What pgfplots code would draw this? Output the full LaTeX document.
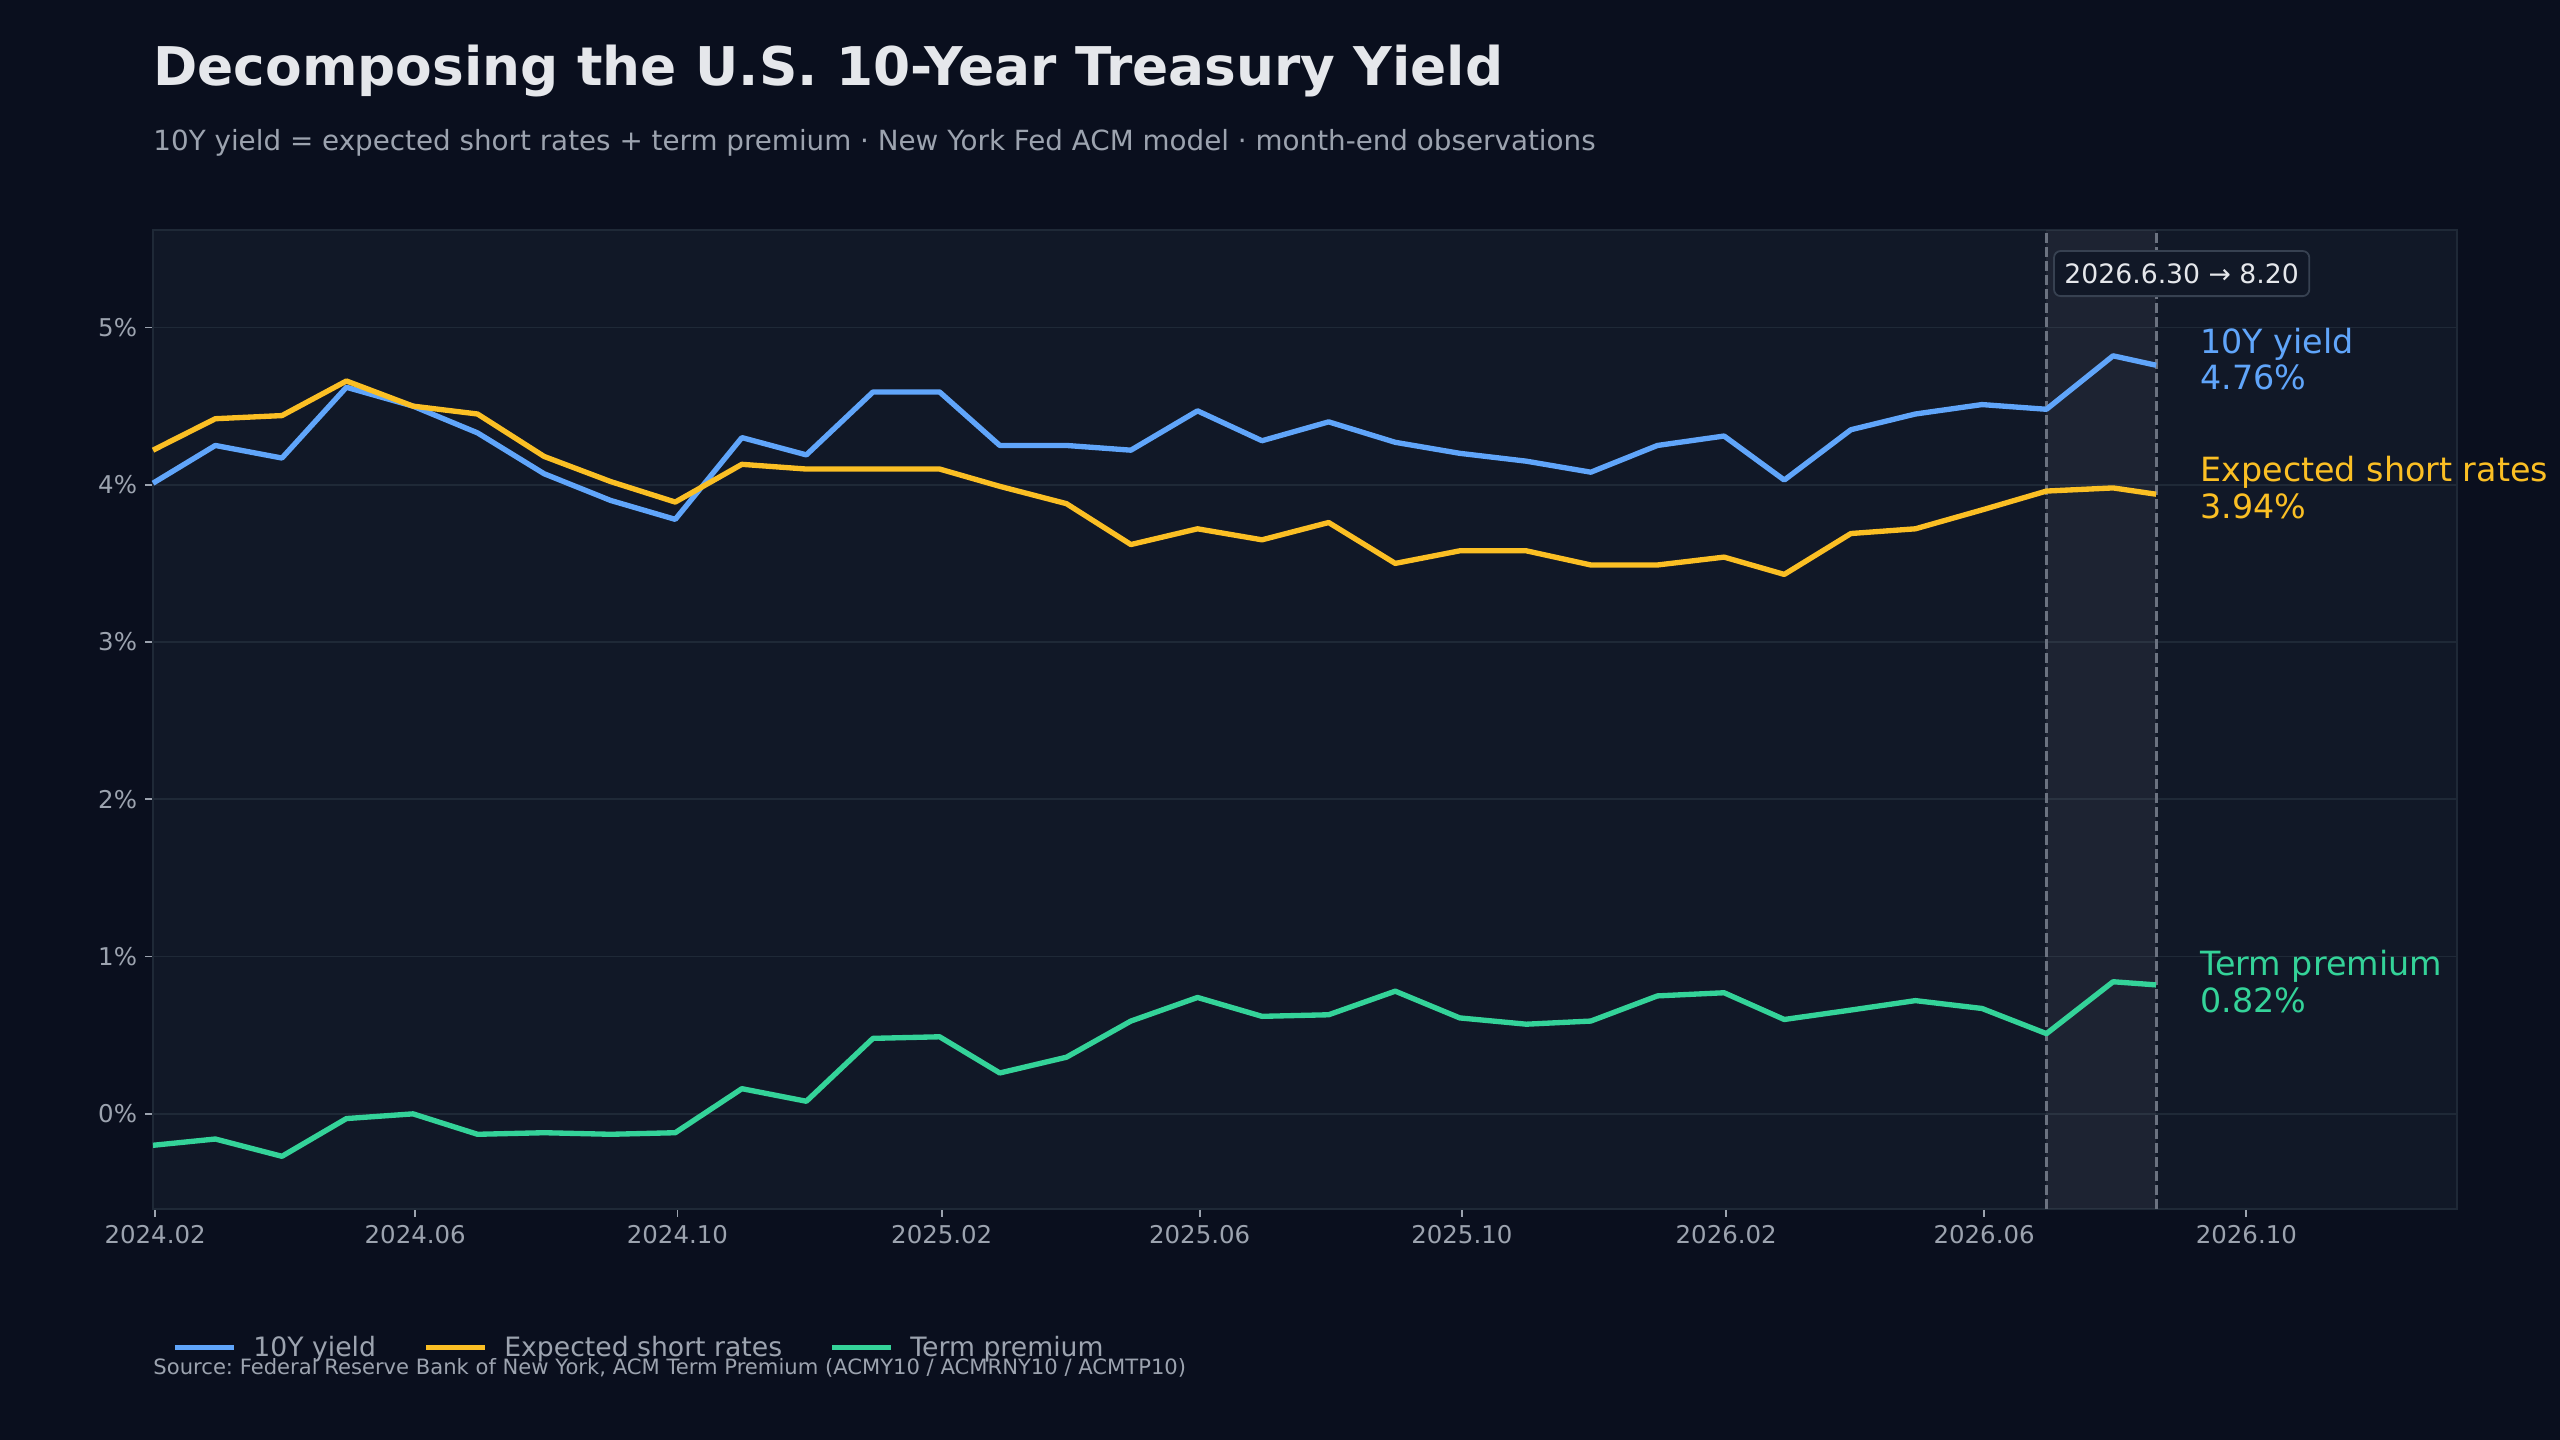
\documentclass[border=0pt]{standalone}
\usepackage{pgfplots}
\usepackage{pgfplotstable}
\pgfplotsset{compat=1.18}
\usepackage{fontspec}
\setmainfont{DejaVu Sans}
\definecolor{figbg}{HTML}{0A0F1E}
\definecolor{axbg}{HTML}{111827}
\definecolor{gridc}{HTML}{1F2937}
\definecolor{tickc}{HTML}{9CA3AF}
\definecolor{titlec}{HTML}{E5E7EB}
\definecolor{cblue}{HTML}{60A5FA}
\definecolor{cyellow}{HTML}{FBBF24}
\definecolor{cgreen}{HTML}{34D399}
\definecolor{dashc}{HTML}{6B7280}
\definecolor{boxfill}{HTML}{111827}
\definecolor{boxdraw}{HTML}{374151}

\pgfplotstableread{
d y10 esr tp
0 4.01 4.22 -0.20
29 4.25 4.42 -0.16
60 4.17 4.44 -0.27
90 4.62 4.66 -0.03
121 4.50 4.50 0.00
151 4.33 4.45 -0.13
182 4.07 4.18 -0.12
213 3.90 4.02 -0.13
243 3.78 3.89 -0.12
274 4.30 4.13 0.16
304 4.19 4.10 0.08
335 4.59 4.10 0.48
366 4.59 4.10 0.49
394 4.25 3.99 0.26
425 4.25 3.88 0.36
455 4.22 3.62 0.59
486 4.47 3.72 0.74
516 4.28 3.65 0.62
547 4.40 3.76 0.63
578 4.27 3.50 0.78
608 4.20 3.58 0.61
639 4.15 3.58 0.57
669 4.08 3.49 0.59
700 4.25 3.49 0.75
731 4.31 3.54 0.77
759 4.03 3.43 0.60
790 4.35 3.69 0.66
820 4.45 3.72 0.72
851 4.51 3.84 0.67
881 4.48 3.96 0.51
912 4.82 3.98 0.84
932 4.76 3.94 0.82
}\data

\begin{document}
\frenchspacing
\begin{tikzpicture}
\useasboundingbox (0,0) rectangle (1152pt,648pt);
\fill[figbg] (0,0) rectangle (1152pt,648pt);
\node[anchor=base west, inner sep=0pt, text=titlec, font=\fontsize{24}{28}\selectfont\bfseries] at (68.85pt,609.3pt) {Decomposing the U.S. 10-Year Treasury Yield};
\node[anchor=base west, inner sep=0pt, text=tickc, font=\fontsize{12.5}{15}\selectfont] at (68.85pt,580.2pt) {10Y yield = expected short rates + term premium · New York Fed ACM model · month-end observations};
\node[anchor=base west, inner sep=0pt, text=tickc, font=\fontsize{9.5}{11}\selectfont] at (68.85pt,29.25pt) {Source: Federal Reserve Bank of New York, ACM Term Premium (ACMY10 / ACMRNY10 / ACMTP10)};
\begin{axis}[
  at={(68.85pt,103.95pt)}, anchor=south west,
  scale only axis, width=1036.8pt, height=440.55pt,
  xmin=0, xmax=1072, ymin=-0.605, ymax=5.62,
  axis background/.style={fill=axbg},
  axis line style={draw=gridc, line width=0.8pt},
  xtick={1,122,244,367,487,609,732,852,974},
  xticklabels={2024.02,2024.06,2024.10,2025.02,2025.06,2025.10,2026.02,2026.06,2026.10},
  ytick={0,1,2,3,4,5},
  yticklabels={0\%,1\%,2\%,3\%,4\%,5\%},
  tick align=outside, major tick length=3.5pt, tick pos=left,
  tick style={draw=tickc, line width=0.8pt},
  ticklabel style={font=\fontsize{11}{13}\selectfont, text=tickc},
  xticklabel style={inner sep=0pt, yshift=-3.5pt},
  yticklabel style={inner sep=0pt, xshift=-3.5pt},
  ymajorgrids, grid style={draw=gridc, line width=0.8pt},
  clip=false,
  legend columns=3,
  legend cell align=left,
  legend image code/.code={\draw[#1] (0pt,0pt) -- (26.5pt,0pt);},
  legend style={at={(axis description cs:0.0082,-0.1418)}, anchor=west,
    draw=none, fill=none, inner sep=0pt, text=tickc,
    font=\fontsize{12}{14}\selectfont,
    nodes={inner sep=0pt},
    /tikz/every odd column/.append style={column sep=7.6pt},
    /tikz/every even column/.append style={column sep=21.2pt}},
]
\addplot[draw=none, fill=white, fill opacity=0.05, forget plot] coordinates {(881,-0.605) (932,-0.605) (932,5.62) (881,5.62)} -- cycle;
\addplot[dashc, line width=1.3pt, dash pattern=on 4.4pt off 1.9pt, forget plot] coordinates {(881,-0.605) (881,5.62)};
\addplot[dashc, line width=1.3pt, dash pattern=on 4.4pt off 1.9pt, forget plot] coordinates {(932,-0.605) (932,5.62)};
\addplot[cblue, line width=2.4pt, line join=round] table[x=d, y=y10] {\data};
\addlegendentry{10Y yield}
\addplot[cyellow, line width=2.4pt, line join=round] table[x=d, y=esr] {\data};
\addlegendentry{Expected short rates}
\addplot[cgreen, line width=2.4pt, line join=round] table[x=d, y=tp] {\data};
\addlegendentry{Term premium}
\node[anchor=west, draw=boxdraw, fill=boxfill, line width=0.8pt, rounded corners=3pt, inner xsep=4.7pt, minimum height=20.3pt, text=titlec, font=\fontsize{12}{14}\selectfont] at (axis cs:884.1,5.343) {2026.6.30 → 8.20};
\node[anchor=base west, inner sep=0pt, text=cblue, font=\fontsize{15}{18}\selectfont] at (axis cs:952.5,4.836) {10Y yield};
\node[anchor=base west, inner sep=0pt, yshift=-16.5pt, text=cblue, font=\fontsize{15}{18}\selectfont] at (axis cs:952.5,4.836) {4.76\%};
\node[anchor=base west, inner sep=0pt, text=cyellow, font=\fontsize{15}{18}\selectfont] at (axis cs:952.5,4.02) {Expected short rates};
\node[anchor=base west, inner sep=0pt, yshift=-16.5pt, text=cyellow, font=\fontsize{15}{18}\selectfont] at (axis cs:952.5,4.02) {3.94\%};
\node[anchor=base west, inner sep=0pt, text=cgreen, font=\fontsize{15}{18}\selectfont] at (axis cs:952.5,0.877) {Term premium};
\node[anchor=base west, inner sep=0pt, yshift=-16.5pt, text=cgreen, font=\fontsize{15}{18}\selectfont] at (axis cs:952.5,0.877) {0.82\%};
\end{axis}
\end{tikzpicture}
\end{document}
